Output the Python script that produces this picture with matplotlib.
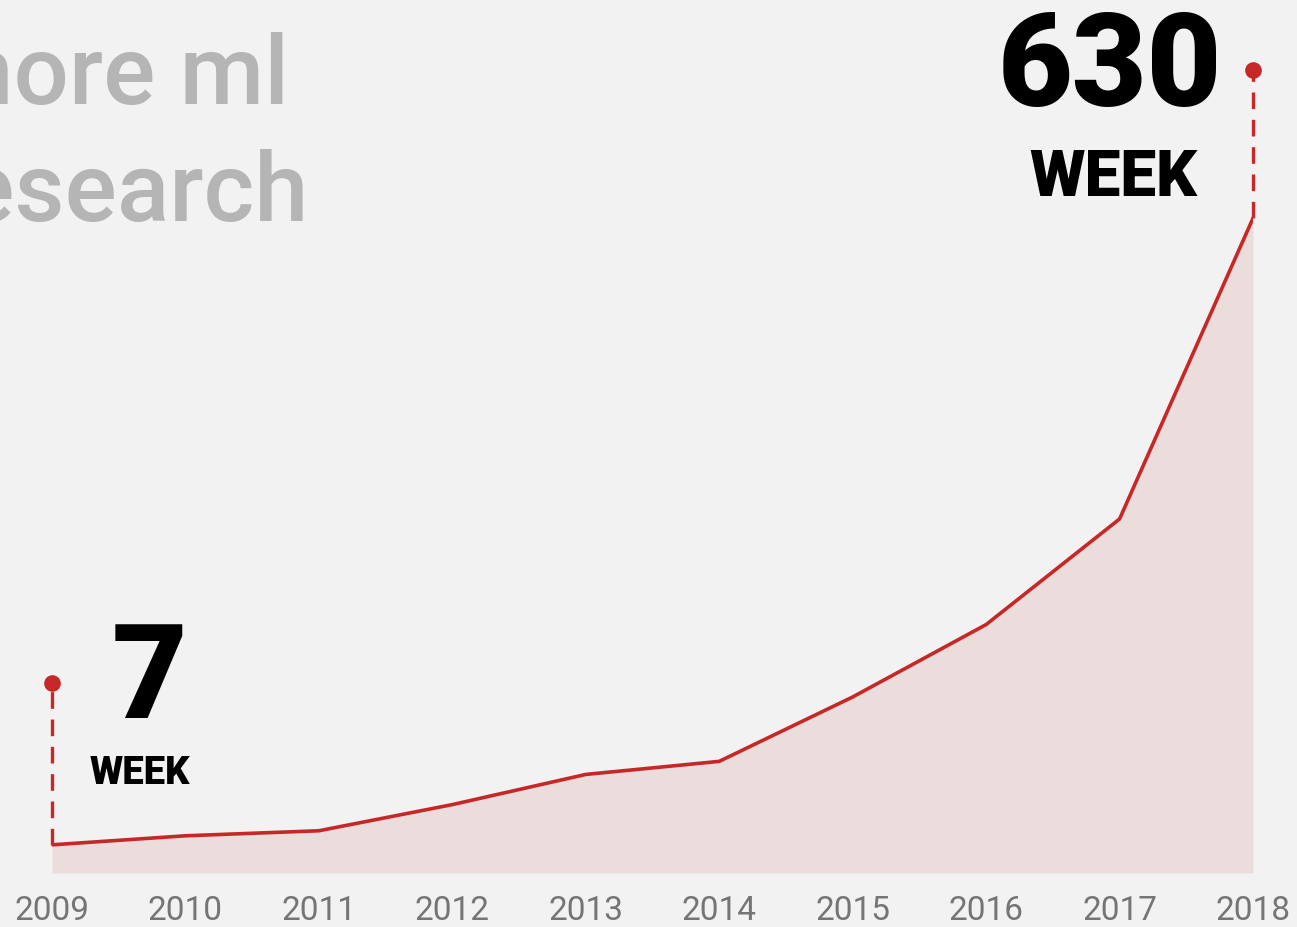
import matplotlib.pyplot as plt

years = [2009, 2010, 2011, 2012, 2013, 2014, 2015, 2016, 2017, 2018]
papers_per_week = [7, 16, 21, 47, 77, 90, 154, 226, 331, 630]
title_lines = ["more ml", "research"]
unit_label = "WEEK"

RED = "#c62828"
FILL = "#ecdddd"
BG = "#f2f2f2"
W, H = 1297, 927

fig = plt.figure(figsize=(W / 100, H / 100), dpi=100, facecolor=BG)
ax = fig.add_axes([52 / W, (H - 873) / H, (1253 - 52) / W, 873 / H])
ax.set_facecolor(BG)
ax.set_xlim(years[0], years[-1])
ax.set_ylim(-21, 847)

ax.fill_between(years, papers_per_week, -21, color=FILL, lw=0)
ax.plot(years, papers_per_week, color=RED, lw=2.6, solid_joinstyle="miter")

# dashed leaders with dots at both ends of the series
for x, y, top in [(years[0], papers_per_week[0], 168), (years[-1], papers_per_week[-1], 777)]:
    ax.plot([x, x], [y, top], color=RED, lw=2.4, dashes=(5, 3.2), clip_on=False)
    ax.plot([x], [top], "o", color=RED, ms=12, mec="none", clip_on=False)

bold = dict(family=["Roboto", "DejaVu Sans"], fontweight="black", color="black",
            ha="center", va="baseline")
ax.text(2016.93, 742, str(papers_per_week[-1]), fontsize=93, **bold)
ax.text(2016.95, 652, unit_label, fontsize=46, **bold)
ax.text(2009.73, 133, str(papers_per_week[0]), fontsize=94, **bold)
ax.text(2009.66, 67, unit_label, fontsize=27.5, **bold)

grey = dict(family=["Roboto", "DejaVu Sans"], fontweight="medium", color="#b5b5b5",
            ha="right", va="baseline", fontsize=70)
fig.text(289 / W, 1 - 104 / H, title_lines[0], **grey)
fig.text(309 / W, 1 - 221 / H, title_lines[1], **grey)

ax.set_xticks(years)
ax.set_xticklabels([str(y) for y in years], family=["Roboto", "DejaVu Sans"],
                   fontsize=24, color="#757575")
ax.tick_params(axis="x", length=0, pad=16)
ax.set_yticks([])
for s in ax.spines.values():
    s.set_visible(False)

fig.savefig("out.png", dpi=100, facecolor=BG)
